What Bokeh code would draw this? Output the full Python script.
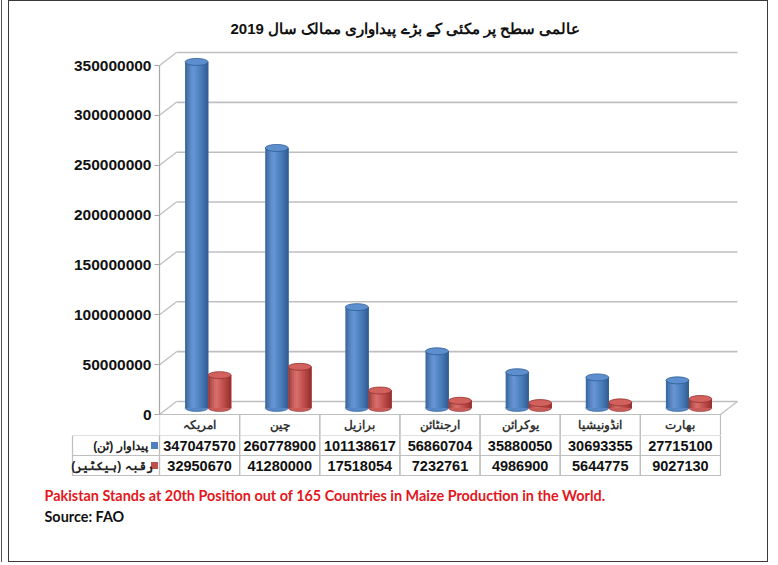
from bokeh.plotting import figure
from bokeh.models import Range1d, FixedTicker, BasicTickFormatter
from bokeh.layouts import column
from bokeh.embed import file_html
from bokeh.resources import INLINE
from bokeh.core.properties import value

# ---------------- data ----------------
title_text = "عالمی سطح پر مکئی  کے بڑے پیداواری ممالک سال 2019"
countries = ["امریکہ", "چین", "برازیل", "ارجنٹائن", "یوکرائن", "انڈونیشیا", "بھارت"]
production = [347047570, 260778900, 101138617, 56860704, 35880050, 30693355, 27715100]
area = [32950670, 41280000, 17518054, 7232761, 4986900, 5644775, 9027130]
series_names = ["پیداوار (ٹن)", "رقبہ (ہیکٹیر)"]
y_ticks = [0, 50000000, 100000000, 150000000, 200000000, 250000000, 300000000, 350000000]
note_text = "Pakistan Stands at 20th Position out of 165 Countries in Maize Production in the World."
source_text = "Source: FAO"

# ---------------- layout (target page pixels) ----------------
OX, OY = 9, 1            # page position of figure's top-left corner
W = 758
H_TOTAL = 560
COL = 80.14              # one category column
AXIS_X = 159             # page x of y-axis line / table left
LEG_X = 72               # page x of table legend cell left
ZERO_Y = 414             # page y of value 0 (front floor edge)
TOPV_Y = 65              # page y of 350M on the front axis
FRAME_TOP = 40
HEAD_BOT = 435           # bottom of the country-name row
ROW = 20
NOTE_X = 44
NOTE_Y = 495
SRC_Y = 516

LEFT = AXIS_X - OX
RIGHT = 22
H1 = HEAD_BOT - OY
TOP1 = FRAME_TOP - OY
PX_PER_VAL = (ZERO_Y - TOPV_Y) / 350e6
V_PER_PX = 1.0 / PX_PER_VAL
DEPTH_X = 17 / COL
DEPTH_Y = 13 * V_PER_PX
BAR_W = 23 / COL

n = len(countries)
idx = list(range(n))
GRID = "#BFBFBF"
FONT = value("Liberation Sans")


def shade(c_dark, c_mid, c_light, k):
    """colours for k vertical strips giving a cylinder look"""
    def mix(a, b, t):
        a = [int(a[i:i + 2], 16) for i in (1, 3, 5)]
        b = [int(b[i:i + 2], 16) for i in (1, 3, 5)]
        return "#%02x%02x%02x" % tuple(int(round(a[j] + (b[j] - a[j]) * t)) for j in range(3))
    out = []
    for j in range(k):
        s = (j + 0.5) / k
        if s < 0.35:
            t = s / 0.35
            out.append(mix(c_dark, c_light, t ** 0.7))
        else:
            t = (s - 0.35) / 0.65
            out.append(mix(c_light, c_mid, t / 0.6) if t < 0.6 else mix(c_mid, c_dark, (t - 0.6) / 0.4))
    return out


BLUE = shade("#2F5B92", "#4778B5", "#6797D6", 12)
RED = shade("#8E302D", "#B94744", "#D9716D", 12)
BLUE_TOP, RED_TOP = "#5D8FCF", "#D2605C"
BLUE_EDGE, RED_EDGE = "#2F5C94", "#933330"

# ---------------- figure 1: chart ----------------
y_start = -(HEAD_BOT - ZERO_Y) * V_PER_PX
y_end = y_start + (H1 - TOP1) * V_PER_PX
x_start = -0.5
x_end = -0.5 + (W - LEFT - RIGHT) / COL

p = figure(width=W, height=H1, output_backend="svg", toolbar_location=None,
           x_range=Range1d(x_start, x_end), y_range=Range1d(y_start, y_end),
           min_border_left=LEFT, min_border_right=RIGHT, min_border_top=TOP1,
           min_border_bottom=0, x_axis_location=None, title=title_text)
p.frame_align = False
p.outline_line_color = None
p.xgrid.visible = False
p.ygrid.visible = False

p.title.align = "left"
p.title.offset = 71
p.title.standoff = 8
p.title.text_font = "Liberation Sans"
p.title.text_font_size = "15px"
p.title.text_font_style = "bold"
p.title.text_color = "#111111"

ax = p.yaxis[0]
ax.ticker = FixedTicker(ticks=y_ticks)
ax.formatter = BasicTickFormatter(use_scientific=False)
ax.bounds = (0, y_ticks[-1])
ax.axis_line_color = "#A6A6A6"
ax.axis_line_width = 1.2
ax.major_tick_line_color = "#A6A6A6"
ax.major_tick_out = 5
ax.major_tick_in = 0
ax.minor_tick_line_color = None
ax.major_label_text_font = "Liberation Sans"
ax.major_label_text_font_style = "bold"
ax.major_label_text_font_size = "15.5px"
ax.major_label_text_color = "#111111"
ax.major_label_standoff = 3

# back wall gridlines and side-wall connectors
gx0 = [-0.5 + DEPTH_X] * len(y_ticks)
gx1 = [n - 0.5 + DEPTH_X] * len(y_ticks)
gy = [t + DEPTH_Y for t in y_ticks]
p.segment(x0=gx0, y0=gy, x1=gx1, y1=gy, line_color=GRID, line_width=1.6)
p.segment(x0=[-0.5] * len(y_ticks), y0=y_ticks, x1=gx0, y1=gy, line_color=GRID, line_width=1.3)
p.segment(x0=[n - 0.5], y0=[0], x1=[n - 0.5 + DEPTH_X], y1=[DEPTH_Y], line_color=GRID, line_width=1.3)

# cylinders
base = DEPTH_Y / 2


def cylinders(xc, vals, cols, topcol, edge):
    bottoms = [base] * n
    tops = [v + base for v in vals]
    p.ellipse(x=xc, y=bottoms, width=BAR_W, height=7, height_units="screen",
              fill_color=cols[len(cols) // 2], line_color=edge, line_width=0.6)
    k = len(cols)
    sw = BAR_W / k
    # body: strips drawn left to right, each overlapping the next to hide seams
    for j, c in enumerate(cols):
        w = sw * (k - j)
        xs = [x - BAR_W / 2 + j * sw + w / 2 for x in xc]
        p.vbar(x=xs, width=w, bottom=bottoms, top=tops, fill_color=c, line_color=None)
    p.ellipse(x=xc, y=tops, width=BAR_W, height=7, height_units="screen",
              fill_color=topcol, line_color=edge, line_width=0.8)


blue_x = [i + DEPTH_X / 2 - BAR_W / 2 for i in idx]
red_x = [i + DEPTH_X / 2 + BAR_W / 2 for i in idx]
cylinders(blue_x, production, BLUE, BLUE_TOP, BLUE_EDGE)
cylinders(red_x, area, RED, RED_TOP, RED_EDGE)

# country-name row of the data table
p.quad(left=[i - 0.5 for i in idx], right=[i + 0.5 for i in idx], top=[0] * n,
       bottom=[y_start] * n, fill_color=None, line_color=GRID, line_width=1.2)
p.text(x=idx, y=[y_start / 2] * n, text=countries, text_align="center",
       text_baseline="middle", text_font=FONT, text_font_size="12px",
       text_font_style="bold", text_color="#333333")

# ---------------- figure 2: data table + notes ----------------
H2 = H_TOTAL - H1
x2_start = -0.5 - LEFT / COL
x2_end = -0.5 + (W - LEFT) / COL
q = figure(width=W, height=H2, output_backend="svg", toolbar_location=None,
           x_range=Range1d(x2_start, x2_end), y_range=Range1d(-H2, 0),
           min_border=0, min_border_left=0, min_border_right=0, min_border_top=0,
           min_border_bottom=0, x_axis_location=None, y_axis_location=None)
q.frame_align = False
q.outline_line_color = None
q.xgrid.visible = False
q.ygrid.visible = False

leg_left = -0.5 - (AXIS_X - LEG_X) / COL
for r, vals in enumerate([production, area]):
    top = -r * ROW
    bot = top - ROW
    q.quad(left=[i - 0.5 for i in idx] + [leg_left], right=[i + 0.5 for i in idx] + [-0.5],
           top=[top] * (n + 1), bottom=[bot] * (n + 1), fill_color=None,
           line_color=GRID, line_width=1.2)
    q.text(x=idx, y=[(top + bot) / 2] * n, text=[str(v) for v in vals],
           text_align="center", text_baseline="middle", text_font=FONT,
           text_font_size="14.5px", text_font_style="bold", text_color="#111111")

leg_y = [-ROW / 2, -ROW * 1.5]
q.scatter(x=[-0.5 - 5 / COL] * 2, y=leg_y, marker="square", size=7,
          fill_color=["#4F81BD", "#C0504D"], line_color=None)
q.text(x=[-0.5 - 12 / COL] * 2, y=leg_y, text=series_names, text_align="right",
       text_baseline="middle", text_font=FONT, text_font_size="12px",
       text_font_style="bold", text_color="#222222")

note_x = -0.5 - (AXIS_X - NOTE_X) / COL
q.text(x=[note_x], y=[-(NOTE_Y - HEAD_BOT)], text=[note_text], text_align="left",
       text_baseline="middle", text_font=value("Lato"), text_font_size="14.4px",
       text_font_style="bold", text_color="#E3171C")
q.text(x=[note_x], y=[-(SRC_Y - HEAD_BOT)], text=[source_text], text_align="left",
       text_baseline="middle", text_font=value("Lato"), text_font_size="14.4px",
       text_font_style="bold", text_color="#111111")

inner = column(p, q, styles={"border": "1px solid #3A3A3A"})
layout = column(inner, styles={"border-left": "1px solid #555555", "margin-left": "1px",
                               "padding-left": "6px"})

open("out.html", "w").write(file_html(layout, INLINE))
